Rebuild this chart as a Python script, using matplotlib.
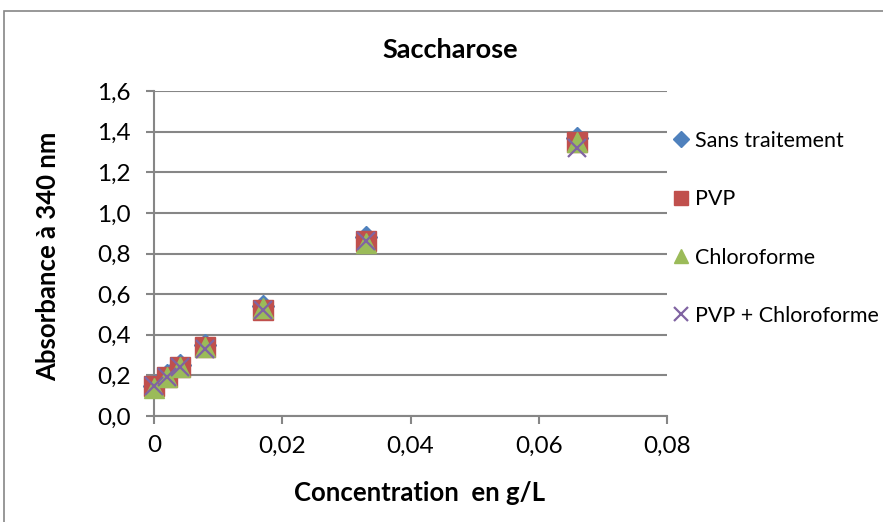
import numpy as np
import matplotlib
matplotlib.use("Agg")
import matplotlib.pyplot as plt
from matplotlib.patches import Rectangle
from matplotlib.ticker import FuncFormatter

plt.rcParams['font.family'] = ['Lato', 'DejaVu Sans']

concentration = [0, 0.002, 0.004, 0.008, 0.017, 0.033, 0.066]
sans_traitement = [0.15, 0.20, 0.25, 0.35, 0.54, 0.88, 1.37]
pvp = [0.15, 0.19, 0.24, 0.34, 0.52, 0.86, 1.35]
chloroforme = [0.14, 0.19, 0.24, 0.34, 0.53, 0.85, 1.35]
pvp_chloroforme = [0.15, 0.19, 0.24, 0.33, 0.52, 0.86, 1.32]

grey = '#868686'

fig = plt.figure(figsize=(8.83, 5.22), dpi=100)
fig.patches.append(Rectangle((4 / 883, -0.1), 1.2, 1.1 - 11 / 522,
                             transform=fig.transFigure, fill=False,
                             edgecolor=grey, linewidth=1.2))

ax = fig.add_axes([154 / 883, 1 - 416 / 522, (667 - 154) / 883, (416 - 91) / 522])

ax.plot(concentration, sans_traitement, linestyle='none', marker='D', markersize=11,
        color='#4F81BD', label='Sans traitement', clip_on=False, zorder=3)
ax.plot(concentration, pvp, linestyle='none', marker='s', markersize=14,
        color='#C0504D', label='PVP', clip_on=False, zorder=4)
ax.plot(concentration, chloroforme, linestyle='none', marker='^', markersize=14,
        color='#9BBB59', label='Chloroforme', clip_on=False, zorder=5)
ax.plot(concentration, pvp_chloroforme, linestyle='none', marker='x', markersize=13,
        markeredgewidth=1.6, color='#8064A2', label='PVP + Chloroforme',
        clip_on=False, zorder=6)

ax.set_xlim(0, 0.08)
ax.set_ylim(0, 1.6)
ax.set_xticks(np.arange(0, 0.081, 0.02))
ax.set_yticks(np.arange(0, 1.61, 0.2))
ax.xaxis.set_major_formatter(FuncFormatter(lambda v, p: '0' if v == 0 else f'{v:.2f}'.replace('.', ',')))
ax.yaxis.set_major_formatter(FuncFormatter(lambda v, p: f'{v:.1f}'.replace('.', ',')))

ax.grid(axis='y', color=grey, linewidth=1.5)
ax.set_axisbelow(True)
for s in ['top', 'right']:
    ax.spines[s].set_visible(False)
for s in ['left', 'bottom']:
    ax.spines[s].set_color(grey)
    ax.spines[s].set_linewidth(1.5)
ax.tick_params(axis='both', colors=grey, labelcolor='black', labelsize=17.5,
               length=6, width=1.5, direction='out')
ax.tick_params(axis='y', pad=11)
ax.tick_params(axis='x', pad=8)

# axis titles and chart title placed like the Excel original
fig.text(420 / 883, 1 - 493 / 522, 'Concentration  en g/L', fontsize=18.5,
         fontweight='bold', ha='center', va='center')
fig.text(48 / 883, 1 - 256 / 522, 'Absorbance à 340 nm', fontsize=18.5,
         fontweight='bold', ha='center', va='center', rotation=90)
fig.text(450 / 883, 1 - 50 / 522, 'Saccharose', fontsize=19.5, fontweight='bold',
         ha='center', va='center')

leg = ax.legend(loc='upper left', bbox_to_anchor=(675 / 883, 1 - 131 / 522),
                bbox_transform=fig.transFigure, frameon=False, fontsize=15.5,
                labelspacing=1.78, handlelength=0.6, handletextpad=0.35,
                markerscale=0.75, borderaxespad=0, borderpad=0)

fig.savefig('out.png', dpi=100)
